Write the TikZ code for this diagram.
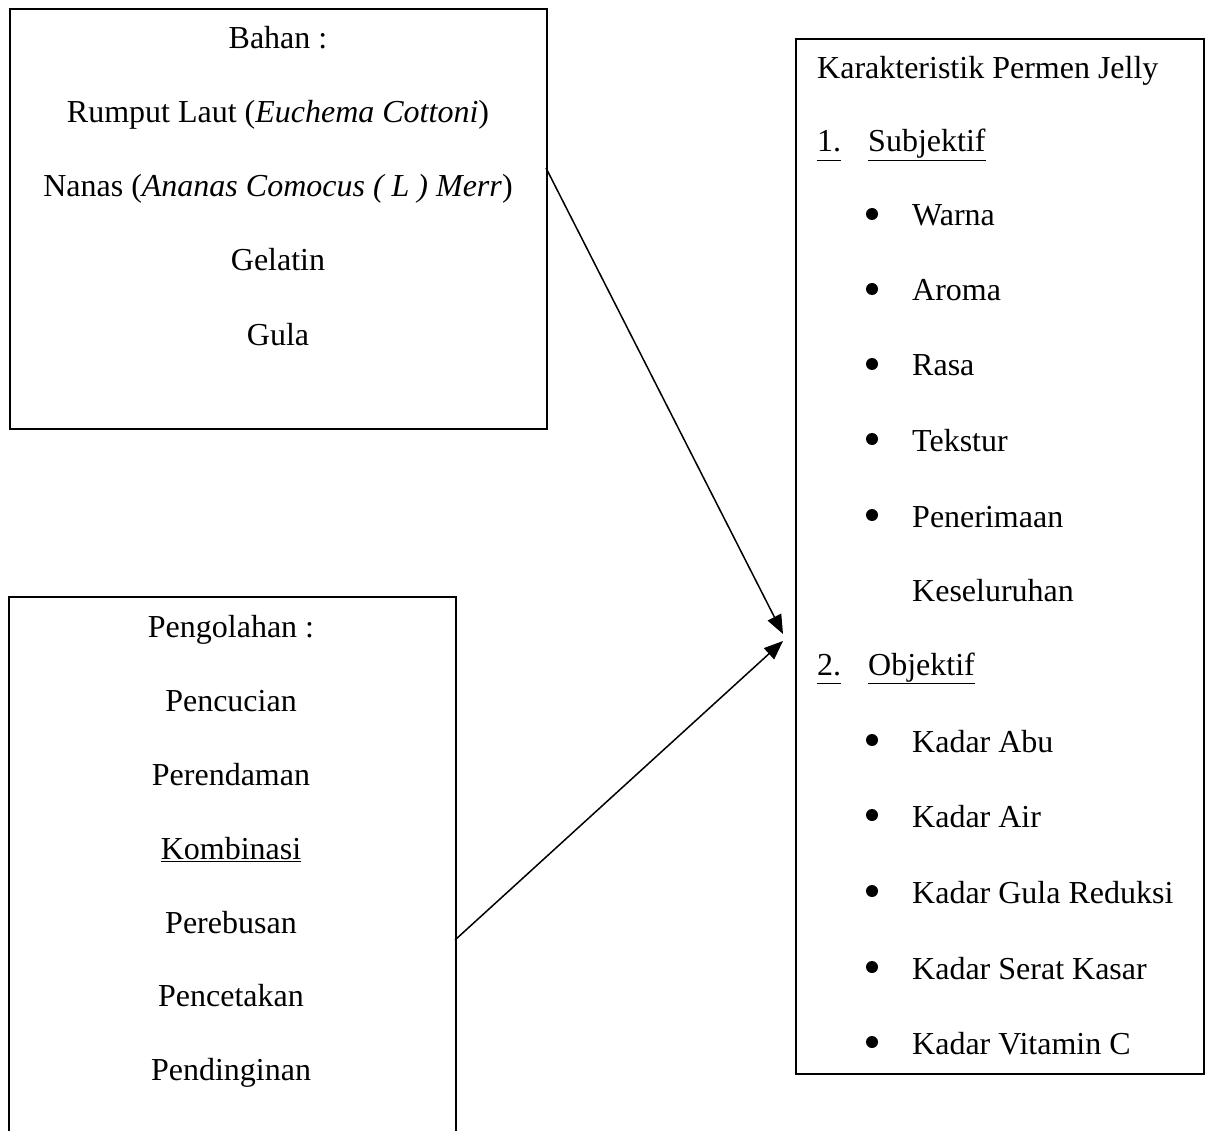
\documentclass[tikz,border=0pt]{standalone}
\usepackage{fontspec}
\setmainfont{Liberation Serif}
\usetikzlibrary{arrows.meta}
\newcommand{\myul}[1]{\underline{#1\vphantom{j}}}
\begin{document}
\begin{tikzpicture}[x=1pt,y=-1pt,
  box/.style={draw, line width=1.6pt, anchor=north west, inner sep=0pt},
  txt/.style={inner sep=0pt, font=\fontsize{32}{38}\selectfont},
  ctxt/.style={txt, anchor=base},
  ltxt/.style={txt, anchor=base west},
  bul/.style={circle, fill, inner sep=0pt, minimum size=12pt},
  arr/.style={line width=1.5pt, -{Triangle[length=19pt,width=15pt]}}]
\useasboundingbox (0,0) rectangle (1207,1131);
% boxes
\node[box, minimum width=537pt, minimum height=420pt] (bahan) at (9,8) {};
\node[box, minimum width=447pt, minimum height=560pt] (olah) at (8,596) {};
\node[box, minimum width=408pt, minimum height=1035pt] (karak) at (795,38) {};
% left top texts
\node[ctxt] (b0) at (278,49) {Bahan :};
\node[ctxt] (b1) at (278,123) {Rumput Laut (\textit{Euchema Cottoni})};
\node[ctxt] (b2) at (278,197) {Nanas (\textit{Ananas Comocus ( L ) Merr})};
\node[ctxt] (b3) at (278,271) {Gelatin};
\node[ctxt] (b4) at (278,345) {Gula};
% left bottom texts
\node[ctxt] (p0) at (231,637) {Pengolahan :};
\node[ctxt] (p1) at (231,711) {Pencucian};
\node[ctxt] (p2) at (231,785) {Perendaman};
\node[ctxt] (p3) at (231,859) {\underline{Kombinasi}};
\node[ctxt] (p4) at (231,933) {Perebusan};
\node[ctxt] (p5) at (231,1006) {Pencetakan};
\node[ctxt] (p6) at (231,1080) {Pendinginan};
% right texts
\node[ltxt] (k0) at (817,79) {Karakteristik Permen Jelly};
\node[ltxt] (n1) at (817,152) {\myul{1.}};
\node[ltxt] (s1) at (868,152) {\myul{Subjektif}};
\foreach \t/\y/\n in {Warna/226/w1, Aroma/301/w2, Rasa/376/w3, Tekstur/451/w4, Penerimaan/527/w5}{
  \node[bul] (\n b) at (872,\y-12) {};
  \node[ltxt] (\n) at (912,\y) {\t};
}
\node[ltxt] (w6) at (912,601) {Keseluruhan};
\node[ltxt] (n2) at (817,675) {\myul{2.}};
\node[ltxt] (s2) at (868,675) {\myul{Objektif}};
\foreach \t/\y/\n in {Kadar Abu/752/o1, Kadar Air/827/o2, Kadar Gula Reduksi/903/o3, Kadar Serat Kasar/979/o4, Kadar Vitamin C/1054/o5}{
  \node[bul] (\n b) at (872,\y-12) {};
  \node[ltxt] (\n) at (912,\y) {\t};
}
% connectors
\coordinate (st1) at (546,168);
\coordinate (st2) at (455,940);
\coordinate (tp1) at (783,634);
\coordinate (tp2) at (783,641);
\draw[arr] (st1) -- (tp1);
\draw[arr] (st2) -- (tp2);
\end{tikzpicture}
\end{document}
